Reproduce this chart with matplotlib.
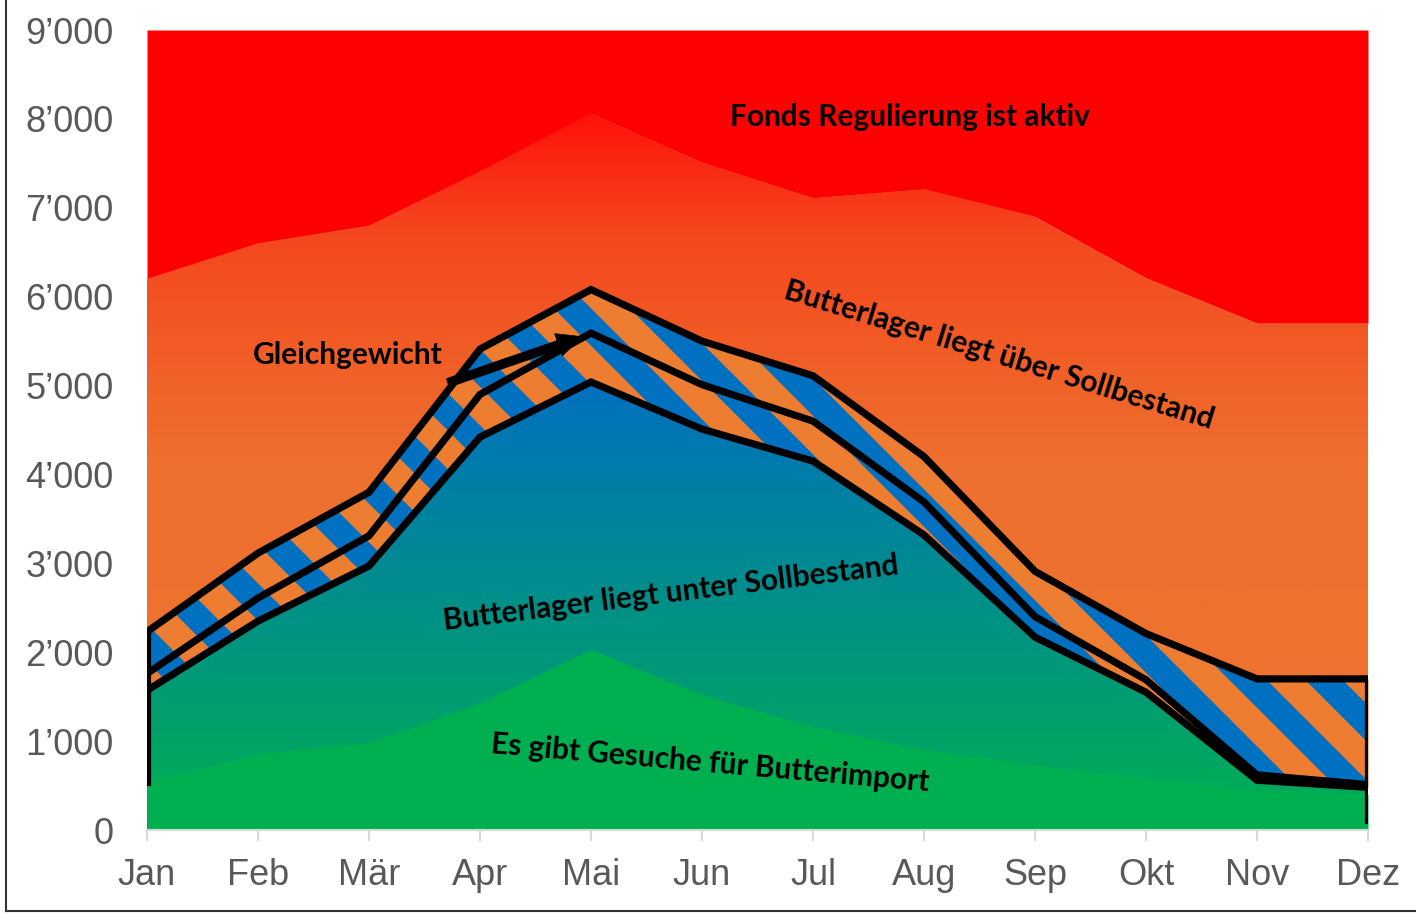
import numpy as np
import matplotlib
matplotlib.use("Agg")
import matplotlib.pyplot as plt
from matplotlib.colors import LinearSegmentedColormap
from matplotlib.ticker import FuncFormatter
from matplotlib.lines import Line2D

months = ["Jan", "Feb", "Mär", "Apr", "Mai", "Jun", "Jul", "Aug", "Sep", "Okt", "Nov", "Dez"]
green_top = [540, 860, 980, 1430, 2030, 1520, 1160, 900, 730, 580, 450, 400]
lower_line = [1570, 2350, 2970, 4420, 5040, 4510, 4150, 3320, 2170, 1550, 560, 480]
middle_line = [1760, 2610, 3310, 4900, 5590, 5010, 4600, 3690, 2400, 1690, 620, 510]
upper_line = [2230, 3115, 3800, 5410, 6080, 5500, 5110, 4200, 2910, 2210, 1700, 1700]
orange_top = [6200, 6600, 6800, 7410, 8060, 7510, 7110, 7210, 6900, 6210, 5700, 5700]
ymax = 9000
jan_edge_bottom = 540
dez_edge_bottom = 110

x = np.arange(len(months))

fig = plt.figure(figsize=(14.16, 9.13), dpi=100)
ax = fig.add_axes([147 / 1416, 83 / 913, 1221 / 1416, 800 / 913])

def gradient_fill(lo, hi, cmap, vmax, z):
    poly = ax.fill_between(x, lo, hi, color="none", linewidth=0, zorder=z)
    grad = np.linspace(0, 1, 512).reshape(-1, 1)
    im = ax.imshow(grad, extent=(0, 11, 0, vmax), origin="lower", aspect="auto",
                   cmap=cmap, zorder=z, interpolation="bilinear")
    im.set_clip_path(poly.get_paths()[0], ax.transData)
    return poly

# red top
ax.fill_between(x, orange_top, ymax, color="#FF0000", linewidth=0, zorder=1)

# orange gradient
orange_cmap = LinearSegmentedColormap.from_list("or", [
    (0.0, (238/255, 115/255, 48/255)),
    (0.45, (238/255, 112/255, 46/255)),
    (0.56, (240/255, 98/255, 40/255)),
    (0.75, (245/255, 70/255, 30/255)),
    (0.9, (255/255, 15/255, 8/255)),
    (1.0, (1, 0, 0))])
gradient_fill(np.zeros(12), orange_top, orange_cmap, ymax, 2)

# striped band between lower and upper line
band = ax.fill_between(x, lower_line, upper_line, color="#ED7D31", linewidth=0, zorder=3)
band_path = band.get_paths()[0]
period = 76 / 1221
slope_dx = 800 / 1221
for x0 in np.arange(-1.0, 1.2, period):
    ln = Line2D([x0, x0 + slope_dx], [1, 0], transform=ax.transAxes,
                color="#0070C0", linewidth=19, solid_capstyle="butt", zorder=3.5)
    ax.add_line(ln)
    ln.set_clip_path(band_path, ax.transData)

# blue gradient
blue_cmap = LinearSegmentedColormap.from_list("bl", ["#00B050", "#0070C0"])
gradient_fill(np.zeros(12), lower_line, blue_cmap, max(lower_line), 4)

# green bottom
ax.fill_between(x, 0, green_top, color="#00B050", linewidth=0, zorder=5)

# black outlines
for line in (lower_line, middle_line, upper_line):
    ax.plot(x, line, color="black", linewidth=5.2, solid_joinstyle="miter", zorder=6)
ax.plot([x[0], x[0]], [jan_edge_bottom, upper_line[0]], color="black", linewidth=5.2, zorder=6)
ax.plot([x[-1], x[-1]], [dez_edge_bottom, upper_line[-1]], color="black", linewidth=5.2, zorder=6)

ax.annotate("", xy=(3.92, 5550), xytext=(2.71, 5030),
            arrowprops=dict(arrowstyle="simple,head_length=0.9,head_width=0.85,tail_width=0.32",
                            mutation_scale=20, facecolor="black", edgecolor="black",
                            linewidth=0.5, shrinkA=0, shrinkB=0), zorder=7)

tfont = dict(family="Lato", fontweight="bold", color="black", fontsize=21.5, zorder=8)
ax.text(6.87, 8020, "Fonds Regulierung ist aktiv", ha="center", va="center", **tfont)
ax.text(7.68, 5340, "Butterlager liegt über Sollbestand", ha="center", va="center",
        rotation=-17, rotation_mode="anchor", **tfont)
ax.text(1.81, 5340, "Gleichgewicht", ha="center", va="center", **tfont)
ax.text(4.72, 2665, "Butterlager liegt unter Sollbestand", ha="center", va="center",
        rotation=7, rotation_mode="anchor", **tfont)
ax.text(5.07, 750, "Es gibt Gesuche für Butterimport", ha="center", va="center",
        rotation=-5, rotation_mode="anchor", **tfont)

ax.set_xlim(0, 11)
ax.set_ylim(0, ymax)
ax.set_xticks(x)
ax.set_xticklabels(months)
ax.set_yticks(np.arange(0, 9001, 1000))
ax.yaxis.set_major_formatter(FuncFormatter(lambda v, p: f"{int(v):,}".replace(",", "\u2019")))
for s in ("top", "right", "left"):
    ax.spines[s].set_visible(False)
ax.spines["bottom"].set_color("#D9D9D9")
ax.spines["bottom"].set_linewidth(1.5)
ax.spines["bottom"].set_zorder(9)
ax.tick_params(axis="x", length=8, width=1.5, color="#D9D9D9", pad=12,
               labelsize=26, labelcolor="#595959")
ax.tick_params(axis="y", length=0, pad=24, labelsize=26, labelcolor="#595959")
for lab in ax.get_xticklabels() + ax.get_yticklabels():
    lab.set_family("Liberation Sans")

# figure frame
fig.add_artist(Line2D([6 / 1416, 6 / 1416], [2 / 913, 1], transform=fig.transFigure,
                      color="#333333", linewidth=1.5))
fig.add_artist(Line2D([6 / 1416, 1], [2 / 913, 2 / 913], transform=fig.transFigure,
                      color="#333333", linewidth=1.5))

fig.savefig("out.png", dpi=100)
